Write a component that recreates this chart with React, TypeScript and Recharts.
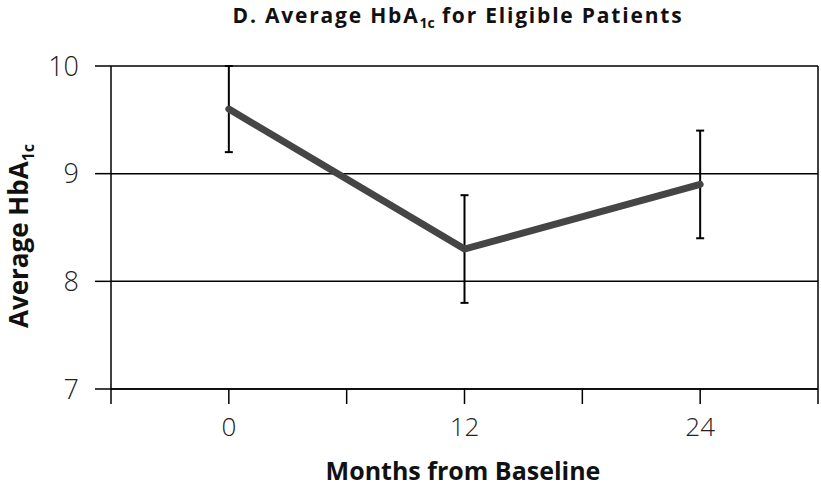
import React from "react";
import {
	LineChart,
	Line,
	XAxis,
	YAxis,
	CartesianGrid,
	ErrorBar,
	ReferenceLine,
} from "recharts";

const months = [0, 12, 24];
const avgHbA1c = [9.6, 8.3, 8.9];
const errHalf = [0.4, 0.5, 0.5];
const xTicks = [-6, 0, 6, 12, 18, 24, 30];
const xLabelled = [0, 12, 24];
const yTicks = [7, 8, 9, 10];

const data = months.map((m, i) => ({ month: m, value: avgHbA1c[i], err: errHalf[i] }));

const font = "'Open Sans', 'DejaVu Sans', sans-serif";

const YLabel = () => (
	<text
		x={28}
		y={236}
		transform="rotate(-90 28 236)"
		textAnchor="middle"
		fontFamily={font}
		fontWeight={700}
		fontSize={26}
		fill="#111"
	>
		Average HbA
		<tspan fontSize={16} dy={6}>1c</tspan>
	</text>
);

const XLabel = () => (
	<text
		x={463}
		y={480}
		textAnchor="middle"
		fontFamily={font}
		fontWeight={700}
		fontSize={25}
		fill="#111"
	>
		Months from Baseline
	</text>
);

export default function App() {
	return (
		<div style={{ position: "absolute", top: 0, left: 0, width: 821, height: 487, background: "#fff" }}>
			<LineChart
				width={821}
				height={487}
				data={data}
				margin={{ top: 66, right: 3, bottom: 0, left: 0 }}
			>
				<CartesianGrid vertical={false} stroke="#000" strokeWidth={1.5} />
				<ReferenceLine x={30} stroke="#000" strokeWidth={1.5} />
				<XAxis
					type="number"
					dataKey="month"
					domain={[-6, 30]}
					ticks={xTicks}
					interval={0}
					height={98}
					tickSize={15}
					tickMargin={14}
					tickFormatter={(v) => (xLabelled.includes(v) ? String(v) : "")}
					stroke="#000"
					strokeWidth={1.5}
					tick={{ fill: "#222", fontSize: 26, fontFamily: font, fontWeight: 300 }}
					label={<XLabel />}
				/>
				<YAxis
					domain={[7, 10]}
					ticks={yTicks}
					interval={0}
					width={111}
					tickSize={16}
					tickMargin={16}
					stroke="#000"
					strokeWidth={1.5}
					tick={{ fill: "#222", fontSize: 27, fontFamily: font, fontWeight: 300 }}
					label={<YLabel />}
				/>
				<Line
					type="linear"
					dataKey="value"
					stroke="#454545"
					strokeWidth={7}
					strokeLinecap="round"
					dot={false}
					isAnimationActive={false}
				>
					<ErrorBar dataKey="err" direction="y" width={4} stroke="#000" strokeWidth={2} />
				</Line>
			</LineChart>
			<svg
				width={821}
				height={40}
				style={{ position: "absolute", top: 0, left: 0, pointerEvents: "none" }}
			>
				<text
					x={458}
					y={23}
					textAnchor="middle"
					fontFamily={font}
					fontWeight={700}
					fontSize={21}
					letterSpacing={1.8}
					fill="#111"
				>
					D. Average HbA
					<tspan fontSize={14} dy={5} letterSpacing={0}>1c</tspan>
					<tspan dy={-5}> for Eligible Patients</tspan>
				</text>
			</svg>
		</div>
	);
}
